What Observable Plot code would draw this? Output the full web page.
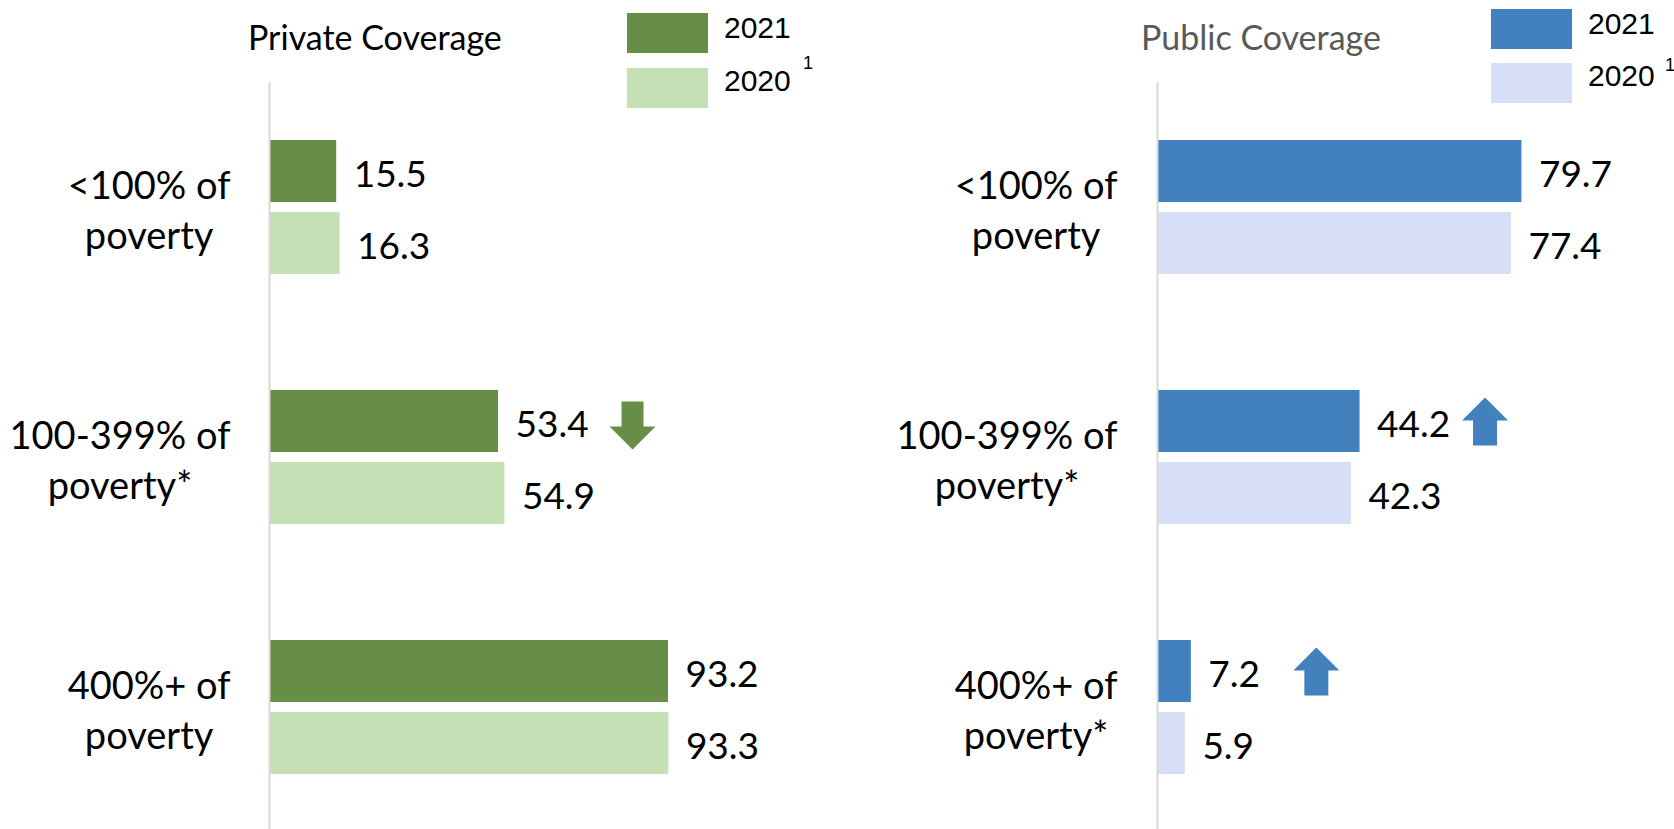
<!DOCTYPE html>
<html><head><meta charset="utf-8">
<script src="https://cdn.jsdelivr.net/npm/d3@7"></script>
<script src="https://cdn.jsdelivr.net/npm/@observablehq/plot@0.6"></script>
<style>
html,body{margin:0;padding:0;background:#fff;overflow:hidden;}
#wrap{position:relative;width:1674px;height:829px;}
#left,#right{position:absolute;top:0;width:837px;height:829px;}
#left{left:0} #right{left:837px}
.t{position:absolute;white-space:nowrap;line-height:1;margin:0;}
.title{font-family:Lato;font-size:34px;}
.sw{position:absolute;width:81px;height:40px;}
.lg{font-family:"Liberation Sans";font-size:30px;color:#000;}
.sup{font-family:"Liberation Sans";font-size:18px;color:#000;}
</style></head><body>
<div id="wrap">
  <div id="left"></div><div id="right"></div>
</div>
<script>
// ---- data ----
const categories = ["<100%", "100-399%", "400%+"];
const privateLabels = ["<100% of\npoverty", "100-399% of\npoverty*", "400%+ of\npoverty"];
const publicLabels = ["<100% of\npoverty", "100-399% of\npoverty*", "400%+ of\npoverty*"];
const years = ["2021", "2020"];
const legendLabels = ["2021", "2020"];
const legendNote = ["", "1"];
const private2021 = [15.5, 53.4, 93.2];
const private2020 = [16.3, 54.9, 93.3];
const public2021 = [79.7, 44.2, 7.2];
const public2020 = [77.4, 42.3, 5.9];
const privateChange = [null, "down", null];
const publicChange = [null, "up", "up"];
const titles = ["Private Coverage", "Public Coverage"];

// ---- styles ----
const GREEN = "#678E47", LIGHT_GREEN = "#C5E0B4";
const BLUE = "#4281BE", LIGHT_BLUE = "#D6DFF6";
const FONT = "Lato", FS = 37, LFS = 38;

const upArrow = {draw(ctx) {
  ctx.moveTo(0, -24); ctx.lineTo(23, -1); ctx.lineTo(12, -1); ctx.lineTo(12, 24);
  ctx.lineTo(-12, 24); ctx.lineTo(-12, -1); ctx.lineTo(-23, -1); ctx.closePath();
}};
const downArrow = {draw(ctx) {
  ctx.moveTo(0, 24); ctx.lineTo(23, 1); ctx.lineTo(11, 1); ctx.lineTo(11, -24);
  ctx.lineTo(-11, -24); ctx.lineTo(-11, 1); ctx.lineTo(-23, 1); ctx.closePath();
}};

const measure = document.createElement("canvas").getContext("2d");
measure.font = `${LFS}px ${FONT}`;

function panel({labels, v2021, v2020, changes, dark, light, pxPerUnit, marginLeft, width, labelGap, arrowDx}) {
  const rows = [];
  categories.forEach((c, i) => {
    rows.push({category: c, year: years[0], value: v2021[i]});
    rows.push({category: c, year: years[1], value: v2020[i]});
  });
  const ups = [], downs = [];
  categories.forEach((c, i) => {
    if (changes[i] === "up") ups.push({category: c, year: years[0], value: v2021[i]});
    if (changes[i] === "down") downs.push({category: c, year: years[0], value: v2021[i]});
  });
  const labelMarks = categories.map((c, i) => {
    const w = Math.max(...labels[i].split("\n").map(s => measure.measureText(s).width));
    return Plot.text([c], {fy: d => d, text: () => labels[i], frameAnchor: "left", textAnchor: "middle",
      dx: -(labelGap + w / 2), lineHeight: 1.316, fontSize: LFS, fontFamily: FONT, fill: "#000"});
  });
  return Plot.plot({
    width, height: 829,
    marginLeft, marginRight: width - marginLeft - 100 * pxPerUnit, marginTop: 81, marginBottom: -4,
    x: {domain: [0, 100], axis: null},
    y: {domain: years, axis: null, paddingInner: 0.137, paddingOuter: 0.785},
    fy: {domain: categories, axis: null, padding: 0},
    color: {domain: years, range: [dark, light]},
    style: {background: "transparent", overflow: "visible"},
    marks: [
      Plot.barX(rows, {x: "value", y: "year", fy: "category", fill: "year"}),
      Plot.ruleX([0], {stroke: "#d9d9d9", strokeWidth: 2, dx: -1}),
      Plot.text(rows, {x: "value", y: "year", fy: "category", text: d => d.value.toFixed(1),
        textAnchor: "start", dx: 17, dy: 4, fontSize: FS, fontFamily: FONT, fill: "#000"}),
      ...labelMarks,
      Plot.dot(ups, {x: "value", y: "year", fy: "category", symbol: upArrow, fill: dark, stroke: "none", dx: arrowDx}),
      Plot.dot(downs, {x: "value", y: "year", fy: "category", symbol: downArrow, fill: dark, stroke: "none", dx: arrowDx, dy: 4})
    ]
  });
}

document.getElementById("left").append(panel({
  labels: privateLabels, v2021: private2021, v2020: private2020, changes: privateChange,
  dark: GREEN, light: LIGHT_GREEN, pxPerUnit: 4.27, marginLeft: 270, width: 837, labelGap: 40, arrowDx: 134
}));
document.getElementById("right").append(panel({
  labels: publicLabels, v2021: public2021, v2020: public2020, changes: publicChange,
  dark: BLUE, light: LIGHT_BLUE, pxPerUnit: 4.56, marginLeft: 321, width: 837, labelGap: 41, arrowDx: 125
}));

// ---- titles and legends (HTML) ----
const wrap = document.getElementById("wrap");
function addText(cls, txt, left, top, color) {
  const d = document.createElement("div");
  d.className = "t " + cls; d.textContent = txt;
  d.style.left = left + "px"; d.style.top = top + "px";
  if (color) d.style.color = color;
  wrap.append(d);
}
function addSwatch(color, left, top) {
  const d = document.createElement("div");
  d.className = "sw"; d.style.background = color;
  d.style.left = left + "px"; d.style.top = top + "px";
  wrap.append(d);
}
addText("title", titles[0], 248, 20, "#000");
addText("title", titles[1], 1141, 20, "#595959");
const legends = [
  {colors: [GREEN, LIGHT_GREEN], sx: 627, sy: [13, 68], tx: 724, ty: [12.6, 65.6], supx: 803, supy: 54},
  {colors: [BLUE, LIGHT_BLUE], sx: 1491, sy: [9, 63], tx: 1588, ty: [8.6, 60.6], supx: 1665, supy: 56}
];
legends.forEach(L => {
  legendLabels.forEach((lab, i) => {
    addSwatch(L.colors[i], L.sx, L.sy[i]);
    addText("lg", lab, L.tx, L.ty[i]);
    if (legendNote[i]) addText("sup", legendNote[i], L.supx, L.supy);
  });
});
</script>
</body></html>
